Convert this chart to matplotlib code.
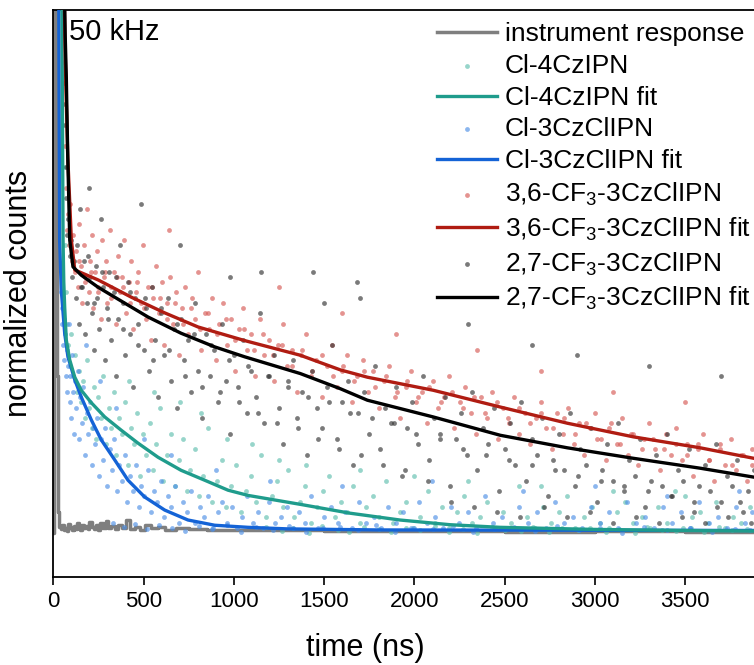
import matplotlib
matplotlib.use("Agg")
import matplotlib.pyplot as plt

plt.rcParams['font.family'] = ['Liberation Sans', 'DejaVu Sans']
plt.rcParams['mathtext.default'] = 'regular'

# ---- data (time in ns, normalized counts) ----
irf_t = [0, 3, 14, 20, 26, 34, 42, 50, 58, 66, 74, 82, 90, 98, 106, 114, 122, 130,
         140, 150, 160, 170, 180, 190, 200, 212, 224, 236, 248, 260, 275, 290, 305,
         320, 340, 360, 380, 400, 425, 450, 480, 510, 540, 580, 620, 680, 750, 850,
         1000, 1500, 2000, 2500, 3000, 3500, 3880]
irf_y = [0.0, 1.5, 1.5, 0.30, 0.04, 0.012, 0.008, 0.015, 0.006, 0.010, 0.004, 0.018,
         0.009, 0.012, 0.005, 0.014, 0.008, 0.020, 0.010, 0.006, 0.016, 0.009, 0.013,
         0.007, 0.022, 0.011, 0.008, 0.015, 0.006, 0.019, 0.010, 0.024, 0.009, 0.013,
         0.007, 0.016, 0.010, 0.025, 0.008, 0.012, 0.006, 0.015, 0.009, 0.011, 0.005,
         0.010, 0.007, 0.006, 0.005, 0.004, 0.004, 0.003, 0.004, 0.003, 0.003]

cl4_fit_t = [45, 48, 52, 54, 58, 63, 72, 91, 119, 155, 211, 285, 375, 469, 580, 708,
             839, 968, 1079, 1367, 1644, 1920, 2198, 2475, 3000, 3500, 3880]
cl4_fit_y = [1.30, 1.00, 0.70, 0.56, 0.48, 0.432, 0.369, 0.331, 0.298, 0.273, 0.249,
             0.222, 0.197, 0.172, 0.145, 0.120, 0.101, 0.082, 0.072, 0.055, 0.038,
             0.025, 0.016, 0.011, 0.007, 0.005, 0.004]

cl3_fit_t = [28, 32, 35, 44, 63, 81, 119, 155, 211, 266, 340, 414, 506, 617, 746, 894,
             1079, 1300, 1800, 3880]
cl3_fit_y = [1.30, 0.85, 0.56, 0.465, 0.382, 0.337, 0.293, 0.260, 0.216, 0.178, 0.140,
             0.101, 0.069, 0.044, 0.025, 0.015, 0.011, 0.008, 0.006, 0.005]

cf36_fit_t = [50, 58, 64, 70, 80, 100, 119, 248, 432, 617, 802, 1060, 1368, 1590, 1740,
              2105, 2476, 2848, 3213, 3584, 3880]
cf36_fit_y = [1.30, 1.10, 0.95, 0.85, 0.72, 0.56, 0.503, 0.484, 0.451, 0.421, 0.394,
              0.368, 0.340, 0.312, 0.298, 0.273, 0.241, 0.210, 0.184, 0.163, 0.143]

cf27_fit_t = [55, 61, 66, 72, 80, 91, 109, 155, 248, 340, 525, 708, 894, 1060, 1368,
              1590, 1740, 2105, 2476, 2848, 3213, 3584, 3880]
cf27_fit_y = [1.30, 1.05, 0.95, 0.872, 0.72, 0.56, 0.509, 0.493, 0.470, 0.451, 0.413,
              0.382, 0.356, 0.337, 0.305, 0.276, 0.254, 0.222, 0.187, 0.163, 0.143,
              0.124, 0.107]

cl4_t = [58, 62, 66, 70, 76, 84, 92, 100, 110, 120, 130, 140, 152, 164, 176, 188, 200,
         212, 225, 238, 250, 264, 278, 292, 306, 320, 335, 350, 366, 382, 398, 414, 430,
         446, 462, 480, 498, 516, 534, 552, 570, 590, 610, 630, 650, 672, 694, 716, 738,
         760, 784, 808, 832, 856, 880, 906, 932, 958, 984, 1010, 1038, 1066, 1094, 1122,
         1150, 1180, 1210, 1240, 1270, 1300, 1332, 1364, 1396, 1428, 1460, 1492, 1526,
         1560, 1594, 1628, 1662, 1698, 1734, 1770, 1806, 1842, 1880, 1918, 1956, 1994,
         2034, 2074, 2114, 2154, 2194, 2236, 2278, 2320, 2362, 2404, 2448, 2492, 2536,
         2580, 2624, 2668, 2712, 2756, 2800, 2846, 2892, 2938, 2984, 3030, 3076, 3122,
         3168, 3214, 3260, 3306, 3352, 3398, 3444, 3490, 3536, 3582, 3628, 3674, 3720,
         3766, 3812, 3858, 420, 560, 700, 820, 960, 1100, 1250, 1400, 1700, 2000, 2300,
         2700, 3100, 3500,
         1180, 1265, 1330, 1415, 1490, 1575, 1640, 1720, 1805, 1870, 1955, 2030, 2115,
         2190, 2270, 2345, 2430, 2505, 2590, 2660, 2745, 2820, 2905, 2975, 3060, 3135,
         3220, 3290, 3375, 3450, 3535, 3605, 3690, 3760, 3845]
cl4_y = [0.90, 0.70, 0.55, 0.46, 0.40, 0.36, 0.32, 0.38, 0.30, 0.34, 0.27, 0.31, 0.25,
         0.29, 0.22, 0.33, 0.24, 0.20, 0.28, 0.18, 0.26, 0.22, 0.30, 0.17, 0.24, 0.20,
         0.27, 0.15, 0.22, 0.19, 0.25, 0.13, 0.20, 0.17, 0.23, 0.11, 0.19, 0.15, 0.21,
         0.12, 0.17, 0.24, 0.10, 0.15, 0.19, 0.09, 0.14, 0.18, 0.08, 0.12, 0.16, 0.07,
         0.11, 0.20, 0.06, 0.10, 0.14, 0.05, 0.09, 0.13, 0.04, 0.08, 0.11, 0.06, 0.15,
         0.03, 0.07, 0.10, 0.05, 0.12, 0.03, 0.06, 0.09, 0.02, 0.05, 0.08, 0.11, 0.03,
         0.06, 0.04, 0.09, 0.02, 0.05, 0.07, 0.03, 0.10, 0.02, 0.04, 0.06, 0.01, 0.03,
         0.08, 0.02, 0.05, 0.01, 0.04, 0.07, 0.02, 0.03, 0.06, 0.01, 0.04, 0.02, 0.09,
         0.03, 0.01, 0.05, 0.02, 0.04, 0.07, 0.01, 0.03, 0.05, 0.02, 0.01, 0.04, 0.06,
         0.02, 0.03, 0.01, 0.05, 0.02, 0.08, 0.01, 0.03, 0.04, 0.02, 0.06, 0.01, 0.03,
         0.02, 0.05, 0.29, 0.27, 0.25, 0.23, 0.18, 0.17, 0.14, 0.13, 0.12, 0.11, 0.10,
         0.09, 0.08, 0.07,
         0.012, 0.004, 0.009, 0.001, 0.014, 0.006, 0.003, 0.011, 0.007, 0.002, 0.010,
         0.005, 0.013, 0.003, 0.008, 0.001, 0.011, 0.006, 0.004, 0.012, 0.002, 0.009,
         0.005, 0.010, 0.003, 0.007, 0.001, 0.011, 0.006, 0.004, 0.009, 0.002, 0.012,
         0.005, 0.007]

cl3_t = [42, 46, 50, 54, 58, 62, 66, 70, 74, 78, 82, 86, 90, 95, 100, 105, 110, 116,
         122, 128, 135, 142, 150, 158, 166, 175, 184, 193, 202, 212, 222, 232, 243, 254,
         265, 276, 288, 300, 312, 325, 338, 352, 366, 380, 395, 410, 425, 440, 456, 472,
         488, 505, 522, 540, 558, 576, 595, 614, 634, 654, 675, 696, 718, 740, 762, 786,
         810, 834, 858, 884, 910, 936, 962, 990, 1018, 1046, 1074, 1104, 1134, 1164, 1196,
         1228, 1260, 1292, 1326, 1360, 1394, 1430, 1466, 1502, 1540, 1578, 1616, 1654,
         1694, 1734, 1774, 1814, 1856, 1898, 1940, 1982, 2026, 2070, 2114, 2158, 2204,
         2250, 2296, 2342, 2390, 2438, 2486, 2534, 2582, 2630, 2680, 2730, 2780, 2830,
         2880, 2930, 2980, 3030, 3080, 3130, 3180, 3230, 3280, 3330, 3380, 3430, 3480,
         3530, 3580, 3630, 3680, 3730, 3780, 3830, 3870, 180, 260, 350, 500, 650, 900,
         1200, 1600, 2100, 2600, 3000, 3400, 3800,
         330, 390, 455, 520, 585, 660, 730, 805, 880, 960, 1040, 1125, 1215, 1305, 1400,
         1495, 1590, 1690, 1790, 1895, 2000, 2105, 2215, 2325, 2440, 2555, 2670, 2790,
         2910, 3030, 3150, 3275, 3400, 3525, 3650, 3775, 3860]
cl3_y = [0.46, 0.40, 0.43, 0.36, 0.41, 0.33, 0.38, 0.30, 0.35, 0.27, 0.32, 0.40, 0.25,
         0.30, 0.22, 0.34, 0.27, 0.19, 0.29, 0.24, 0.31, 0.18, 0.26, 0.21, 0.28, 0.15,
         0.23, 0.19, 0.25, 0.13, 0.20, 0.17, 0.22, 0.11, 0.18, 0.14, 0.20, 0.09, 0.16,
         0.12, 0.18, 0.08, 0.13, 0.10, 0.15, 0.06, 0.11, 0.08, 0.13, 0.05, 0.09, 0.07,
         0.12, 0.04, 0.08, 0.06, 0.10, 0.03, 0.07, 0.05, 0.09, 0.02, 0.06, 0.04, 0.08,
         0.02, 0.05, 0.03, 0.07, 0.01, 0.04, 0.06, 0.02, 0.05, 0.01, 0.03, 0.07, 0.02,
         0.04, 0.01, 0.06, 0.02, 0.03, 0.05, 0.01, 0.04, 0.02, 0.07, 0.01, 0.03, 0.05,
         0.02, 0.04, 0.01, 0.06, 0.02, 0.03, 0.01, 0.05, 0.02, 0.04, 0.01, 0.06, 0.02,
         0.03, 0.01, 0.05, 0.02, 0.04, 0.01, 0.07, 0.02, 0.03, 0.01, 0.05, 0.02, 0.04,
         0.01, 0.06, 0.02, 0.03, 0.01, 0.05, 0.02, 0.04, 0.01, 0.06, 0.02, 0.03, 0.01,
         0.05, 0.02, 0.04, 0.01, 0.06, 0.02, 0.03, 0.01, 0.05, 0.02, 0.04, 0.36, 0.29,
         0.24, 0.18, 0.15, 0.12, 0.10, 0.09, 0.10, 0.08, 0.09, 0.07, 0.08,
         0.020, 0.012, 0.017, 0.008, 0.015, 0.010, 0.004, 0.013, 0.007, 0.016, 0.003,
         0.011, 0.006, 0.014, 0.002, 0.009, 0.012, 0.005, 0.015, 0.003, 0.010, 0.007,
         0.013, 0.002, 0.008, 0.011, 0.004, 0.014, 0.006, 0.009, 0.001, 0.012, 0.005,
         0.010, 0.003, 0.008, 0.006]

cf36_t = [62, 66, 70, 75, 80, 88, 95, 102, 110, 118, 128, 136, 145, 152, 160, 170, 178,
          188, 196, 205, 214, 222, 232, 240, 250, 262, 270, 280, 292, 300, 312, 322, 335,
          345, 356, 368, 380, 392, 405, 418, 430, 444, 456, 470, 484, 498, 512, 526, 540,
          555, 570, 585, 600, 616, 632, 648, 664, 680, 697, 714, 730, 748, 766, 784, 802,
          820, 840, 860, 880, 900, 920, 942, 964, 986, 1008, 1030, 1052, 1075, 1098, 1120,
          1145, 1170, 1195, 1220, 1245, 1270, 1296, 1322, 1348, 1375, 1402, 1430, 1458,
          1486, 1514, 1542, 1570, 1598, 1626, 1655, 1684, 1713, 1742, 1772, 1802, 1832,
          1862, 1892, 1922, 1952, 1982, 2012, 2042, 2072, 2102, 2132, 2162, 2192, 2222,
          2252, 2282, 2312, 2342, 2372, 2402, 2432, 2462, 2492, 2522, 2552, 2582, 2612,
          2642, 2672, 2702, 2732, 2762, 2792, 2822, 2852, 2882, 2912, 2942, 2972, 3002,
          3032, 3062, 3092, 3122, 3152, 3182, 3212, 3242, 3272, 3302, 3332, 3362, 3392,
          3422, 3452, 3482, 3512, 3542, 3572, 3602, 3632, 3662, 3692, 3722, 3752, 3782,
          3812, 3842, 3872, 640, 1250, 1600, 1900, 2350, 2700, 3100, 3500,
          140, 175, 210, 245, 285, 318, 352, 388, 425, 462, 505, 548, 590, 630, 675, 720,
          765, 810, 855, 905, 955, 1005, 1058, 1110, 1162, 1215, 1268, 1322, 1378, 1434,
          1490, 1548, 1606, 1664, 1722, 1782, 1842, 1902, 1962, 2022, 2084, 2146, 2208,
          2270, 2332, 2394, 2456, 2518, 2580, 2642, 2704, 2766, 2828, 2890, 2952, 3014,
          3076, 3138, 3200, 3262, 3324, 3386, 3448, 3510, 3572, 3634, 3696, 3758, 3820,
          3870]
cf36_y = [0.86, 0.74, 0.66, 0.58, 0.61, 0.55, 0.63, 0.52, 0.57, 0.50, 0.54, 0.47, 0.59,
          0.51, 0.44, 0.55, 0.49, 0.62, 0.46, 0.52, 0.57, 0.43, 0.50, 0.54, 0.47, 0.41,
          0.56, 0.49, 0.52, 0.44, 0.58, 0.47, 0.50, 0.40, 0.53, 0.46, 0.49, 0.56, 0.42,
          0.48, 0.52, 0.39, 0.46, 0.50, 0.44, 0.55, 0.41, 0.47, 0.37, 0.45, 0.51, 0.42,
          0.48, 0.36, 0.44, 0.49, 0.40, 0.46, 0.34, 0.43, 0.47, 0.38, 0.45, 0.41, 0.50,
          0.35, 0.42, 0.39, 0.45, 0.33, 0.40, 0.44, 0.36, 0.41, 0.31, 0.39, 0.43, 0.35,
          0.38, 0.30, 0.41, 0.34, 0.37, 0.29, 0.36, 0.40, 0.32, 0.35, 0.27, 0.34, 0.38,
          0.30, 0.33, 0.26, 0.32, 0.36, 0.28, 0.31, 0.34, 0.25, 0.30, 0.33, 0.27, 0.31,
          0.24, 0.29, 0.32, 0.26, 0.22, 0.28, 0.31, 0.25, 0.27, 0.21, 0.29, 0.24, 0.26,
          0.30, 0.20, 0.25, 0.28, 0.23, 0.19, 0.26, 0.22, 0.27, 0.18, 0.24, 0.21, 0.26,
          0.19, 0.23, 0.17, 0.22, 0.25, 0.20, 0.16, 0.23, 0.19, 0.24, 0.17, 0.21, 0.15,
          0.20, 0.23, 0.18, 0.14, 0.21, 0.17, 0.22, 0.15, 0.19, 0.13, 0.18, 0.21, 0.16,
          0.12, 0.19, 0.15, 0.20, 0.14, 0.17, 0.11, 0.16, 0.19, 0.14, 0.10, 0.17, 0.13,
          0.18, 0.12, 0.15, 0.10, 0.16, 0.58, 0.47, 0.42, 0.38, 0.35, 0.31, 0.27, 0.25,
          0.52, 0.48, 0.50, 0.46, 0.50, 0.45, 0.49, 0.47, 0.44, 0.48, 0.43, 0.47, 0.45,
          0.41, 0.44, 0.40, 0.43, 0.39, 0.42, 0.38, 0.41, 0.37, 0.39, 0.35, 0.38, 0.34,
          0.36, 0.32, 0.35, 0.31, 0.34, 0.30, 0.32, 0.29, 0.31, 0.28, 0.30, 0.27, 0.29,
          0.26, 0.28, 0.25, 0.27, 0.24, 0.26, 0.23, 0.25, 0.22, 0.24, 0.21, 0.23, 0.20,
          0.22, 0.19, 0.21, 0.18, 0.20, 0.17, 0.19, 0.16, 0.18, 0.16, 0.17, 0.15, 0.17,
          0.14, 0.16, 0.13, 0.15, 0.13]

cf27_t = [64, 66, 68, 72, 78, 84, 90, 98, 106, 115, 125, 133, 142, 150, 160, 168, 178,
          186, 196, 205, 215, 224, 234, 244, 254, 264, 276, 286, 298, 310, 322, 334, 346,
          358, 372, 385, 398, 412, 426, 440, 455, 470, 485, 500, 516, 532, 548, 564, 580,
          598, 616, 634, 652, 670, 688, 706, 724, 744, 764, 784, 804, 826, 848, 870, 892,
          914, 936, 958, 980, 1002, 1026, 1050, 1074, 1098, 1122, 1146, 1170, 1196, 1222,
          1248, 1274, 1300, 1326, 1352, 1378, 1404, 1432, 1460, 1488, 1516, 1544, 1572,
          1600, 1630, 1660, 1690, 1720, 1750, 1780, 1810, 1840, 1870, 1900, 1930, 1960,
          1990, 2020, 2050, 2080, 2110, 2140, 2170, 2200, 2230, 2260, 2290, 2320, 2350,
          2380, 2410, 2440, 2470, 2500, 2530, 2560, 2590, 2620, 2650, 2680, 2710, 2740,
          2770, 2800, 2830, 2860, 2890, 2920, 2950, 2980, 3010, 3040, 3070, 3100, 3130,
          3160, 3190, 3220, 3250, 3280, 3310, 3340, 3370, 3400, 3430, 3460, 3490, 3520,
          3550, 3580, 3610, 3640, 3670, 3700, 3730, 3760, 3790, 3820, 3850, 3880,
          700, 1150, 1700, 2300, 2650, 3300, 3700, 1500, 980, 2900, 1440, 1684,
          155, 190, 228, 268, 305, 345, 385, 425, 468, 510, 552, 595, 640, 685, 730, 778,
          826, 875, 925, 975, 1028, 1080, 1134, 1188, 1242, 1298, 1354, 1410, 1468, 1526,
          1584, 1644, 1704, 1764, 1826, 1888, 1950, 2012, 2076, 2140, 2204, 2268, 2332,
          2396, 2460, 2524, 2588, 2652, 2716, 2780, 2844, 2908, 2972, 3036, 3100, 3164,
          3228, 3292, 3356, 3420, 3484, 3548, 3612, 3676, 3740, 3804, 3868]
cf27_y = [0.82, 0.78, 0.70, 0.64, 0.57, 0.60, 0.53, 0.56, 0.49, 0.52, 0.45, 0.55, 0.40,
          0.62, 0.47, 0.52, 0.38, 0.44, 0.66, 0.49, 0.42, 0.35, 0.51, 0.45, 0.39, 0.60,
          0.47, 0.33, 0.43, 0.50, 0.37, 0.46, 0.30, 0.41, 0.55, 0.44, 0.34, 0.48, 0.38,
          0.28, 0.45, 0.40, 0.63, 0.35, 0.43, 0.31, 0.47, 0.37, 0.26, 0.42, 0.34, 0.45,
          0.29, 0.39, 0.24, 0.41, 0.33, 0.37, 0.27, 0.44, 0.31, 0.22, 0.38, 0.30, 0.35,
          0.25, 0.40, 0.29, 0.19, 0.34, 0.28, 0.37, 0.23, 0.31, 0.26, 0.42, 0.21, 0.30,
          0.34, 0.24, 0.17, 0.29, 0.33, 0.22, 0.27, 0.15, 0.31, 0.24, 0.20, 0.28, 0.36,
          0.18, 0.25, 0.29, 0.13, 0.23, 0.27, 0.19, 0.32, 0.16, 0.24, 0.21, 0.28, 0.11,
          0.20, 0.25, 0.17, 0.30, 0.14, 0.22, 0.19, 0.26, 0.09, 0.18, 0.23, 0.15, 0.27,
          0.12, 0.20, 0.17, 0.24, 0.08, 0.16, 0.21, 0.13, 0.25, 0.10, 0.18, 0.15, 0.22,
          0.07, 0.14, 0.19, 0.12, 0.23, 0.09, 0.16, 0.13, 0.20, 0.06, 0.12, 0.17, 0.10,
          0.21, 0.08, 0.14, 0.11, 0.18, 0.05, 0.10, 0.15, 0.09, 0.19, 0.07, 0.12, 0.10,
          0.16, 0.04, 0.09, 0.13, 0.08, 0.17, 0.06, 0.11, 0.09, 0.14, 0.04, 0.08, 0.12,
          0.55, 0.50, 0.45, 0.40, 0.36, 0.32, 0.30, 0.44, 0.49, 0.34, 0.50, 0.48,
          0.47, 0.53, 0.44, 0.50, 0.41, 0.49, 0.39, 0.46, 0.36, 0.45, 0.33, 0.43, 0.35,
          0.40, 0.30, 0.38, 0.28, 0.36, 0.27, 0.33, 0.25, 0.32, 0.23, 0.30, 0.21, 0.28,
          0.20, 0.26, 0.18, 0.25, 0.16, 0.23, 0.15, 0.22, 0.13, 0.21, 0.12, 0.19, 0.10,
          0.18, 0.06, 0.16, 0.05, 0.15, 0.04, 0.14, 0.03, 0.13, 0.05, 0.12, 0.03, 0.11,
          0.04, 0.10, 0.02, 0.09, 0.03, 0.08, 0.02, 0.07, 0.03, 0.06, 0.02, 0.05, 0.03,
          0.06, 0.02]

# ---- figure ----
fig = plt.figure(figsize=(7.54, 6.65), dpi=100)
ax = fig.add_axes([0.0707, 0.1323, 0.9293, 0.8527])

dot = dict(s=12, linewidths=0, alpha=0.65)
ax.plot(irf_t, irf_y, color='#7f7f7f', lw=2.5, drawstyle='steps-post',
        label='instrument response', zorder=2)
ax.scatter(cl4_t, cl4_y, color='#5fbfae', label='Cl-4CzIPN', zorder=3, **dot)
ax.plot(cl4_fit_t, cl4_fit_y, color='#1f9c8c', lw=2.4, label='Cl-4CzIPN fit', zorder=8)
ax.scatter(cl3_t, cl3_y, color='#4d8fe6', label='Cl-3CzClIPN', zorder=3, **dot)
ax.plot(cl3_fit_t, cl3_fit_y, color='#1463d6', lw=2.4, label='Cl-3CzClIPN fit', zorder=7)
ax.scatter(cf36_t, cf36_y, color='#d65a55', label='3,6-CF$_3$-3CzClIPN', zorder=4, **dot)
ax.plot(cf36_fit_t, cf36_fit_y, color='#b01c12', lw=2.4,
        label='3,6-CF$_3$-3CzClIPN fit', zorder=9)
ax.scatter(cf27_t, cf27_y, color='#333333', label='2,7-CF$_3$-3CzClIPN', zorder=5, **dot)
ax.plot(cf27_fit_t, cf27_fit_y, color='black', lw=2.4,
        label='2,7-CF$_3$-3CzClIPN fit', zorder=10)

ax.set_xlim(0, 3882)
ax.set_ylim(-0.084, 1.0)
ax.set_xticks([0, 500, 1000, 1500, 2000, 2500, 3000, 3500])
ax.set_yticks([])
ax.tick_params(axis='x', direction='out', length=6, width=1.2, labelsize=16, pad=4)
for side in ['left', 'bottom', 'top']:
    ax.spines[side].set_linewidth(1.3)
ax.spines['right'].set_visible(False)

ax.set_xlabel('time (ns)', fontsize=22)
ax.set_ylabel('normalized counts', fontsize=22)
ax.xaxis.set_label_coords(0.445, -0.098)
ax.yaxis.set_label_coords(-0.028, 0.5)

ax.text(0.022, 0.985, '50 kHz', transform=ax.transAxes, fontsize=21, va='top', ha='left')

ax.legend(loc='upper left', bbox_to_anchor=(0.548, 0.978), frameon=False,
          fontsize=19, handlelength=2.27, handletextpad=0.3, labelspacing=0.29,
          borderpad=0, borderaxespad=0, scatterpoints=1, markerscale=1.0)

fig.savefig('out.png', dpi=100)
